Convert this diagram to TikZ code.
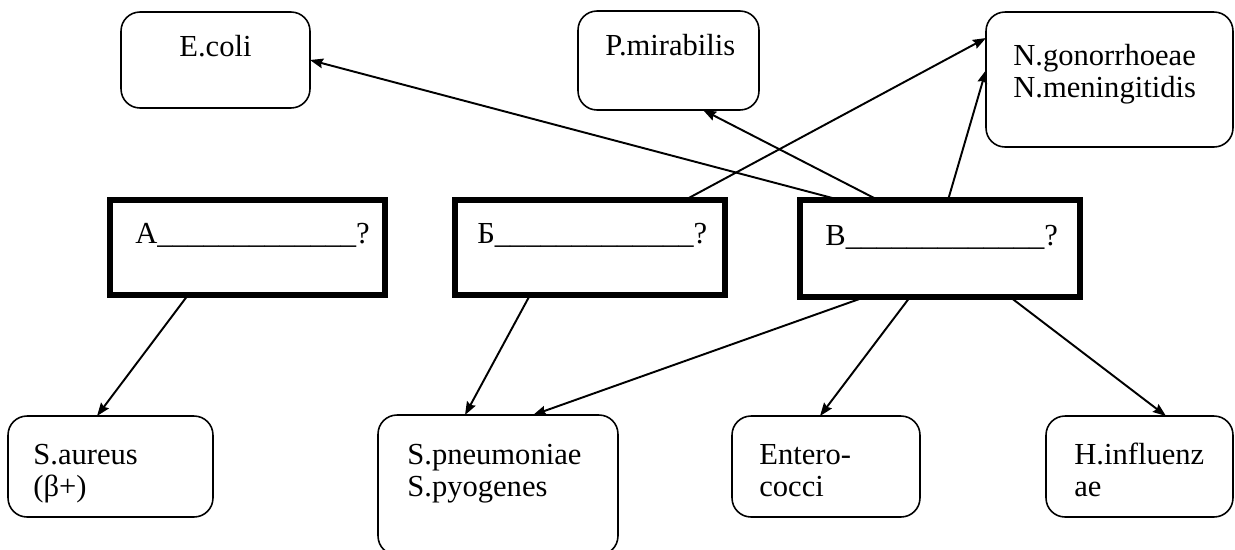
\documentclass[tikz,border=0pt]{standalone}
\usepackage{fontspec}
\setmainfont{Liberation Serif}
\usepackage{tikz}
\usetikzlibrary{arrows.meta,calc}

\tikzset{
  soft/.style={draw, line width=0.9pt, rounded corners=0.38cm, inner sep=0pt, outer sep=0pt},
  qbox/.style={draw, line width=3.4pt, inner sep=0pt, outer sep=0pt},
  lbl/.style={anchor=base west, inner sep=0pt, align=left, font=\fontsize{17.4}{18.2}\selectfont},
  link/.style={line width=1.1pt, -{Stealth[length=7.5pt, width=5.5pt, inset=1pt]}}
}

\begin{document}
\begin{tikzpicture}[x=0.02cm, y=-0.02cm]
  \useasboundingbox (0,0) rectangle (1235,549);

  % upper row
  \node[soft, minimum width=3.78cm, minimum height=1.92cm] (ecoli) at (215.5,60) {};
  \node[soft, minimum width=3.62cm, minimum height=1.98cm] (pmir) at (668.5,60.5) {};
  \node[soft, minimum width=4.94cm, minimum height=2.7cm] (neis) at (1109.5,79.5) {};
  \node[lbl] (l1) at ($(ecoli.north west)+(58,44)$) {E.coli};
  \node[lbl] (l2) at ($(pmir.north west)+(27,44)$) {P.mirabilis};
  \node[lbl] (l3) at ($(neis.north west)+(27,85)$) {N.gonorrhoeae\\N.meningitidis};

  % question boxes
  \node[qbox, minimum width=5.5cm, minimum height=1.9cm] (qa) at (247.5,247.5) {};
  \node[qbox, minimum width=5.4cm, minimum height=1.9cm] (qb) at (590,247.5) {};
  \node[qbox, minimum width=5.6cm, minimum height=1.94cm] (qv) at (940,248.5) {};
  \node[lbl] (l4) at ($(qa.north west)+(25,43)$) {А\_\_\_\_\_\_\_\_\_\_\_\_\_?};
  \node[lbl] (l5) at ($(qb.north west)+(22,43)$) {Б\_\_\_\_\_\_\_\_\_\_\_\_\_?};
  \node[lbl] (l6) at ($(qv.north west)+(25,45)$) {В\_\_\_\_\_\_\_\_\_\_\_\_\_?};

  % lower row
  \node[soft, minimum width=4.1cm, minimum height=2.02cm] (saur) at (110.5,466.5) {};
  \node[soft, minimum width=4.8cm, minimum height=2.8cm] (strep) at (498,485) {};
  \node[soft, minimum width=3.76cm, minimum height=2.02cm] (ent) at (826,466.5) {};
  \node[soft, minimum width=3.74cm, minimum height=2.02cm] (hinf) at (1139.5,466.5) {};
  \node[lbl] (l7) at ($(saur.north west)+(25,80)$) {S.aureus\\(β+)};
  \node[lbl] (l8) at ($(strep.north west)+(29,81)$) {S.pneumoniae\\S.pyogenes};
  \node[lbl] (l9) at ($(ent.north west)+(27,80)$) {Entero-\\cocci};
  \node[lbl] (l10) at ($(hinf.north west)+(28,80)$) {H.influenz\\ae};

  % arrows
  \draw[link] ($(qa.south west)+(78,0)$) -- ($(saur.north west)+(89,0)$);
  \draw[link] ($(qb.south west)+(75,0)$) -- ($(strep.north west)+(87,0)$);
  \draw[link] ($(qv.south west)+(65,0)$) -- ($(strep.north west)+(155,0)$);
  \draw[link] ($(qv.south west)+(110,0)$) -- ($(ent.north west)+(88,0)$);
  \draw[link] ($(qv.south west)+(210,0)$) -- ($(hinf.north west)+(120,0)$);
  \draw[link] ($(qv.north west)+(40,0)$) -- (ecoli.east);
  \draw[link] ($(qv.north west)+(78,0)$) -- ($(pmir.south west)+(125,0)$);
  \draw[link] ($(qb.north west)+(230,0)$) -- ($(neis.north west)+(0,26)$);
  \draw[link] ($(qv.north west)+(148,0)$) -- ($(neis.north west)+(0,58)$);
\end{tikzpicture}
\end{document}
